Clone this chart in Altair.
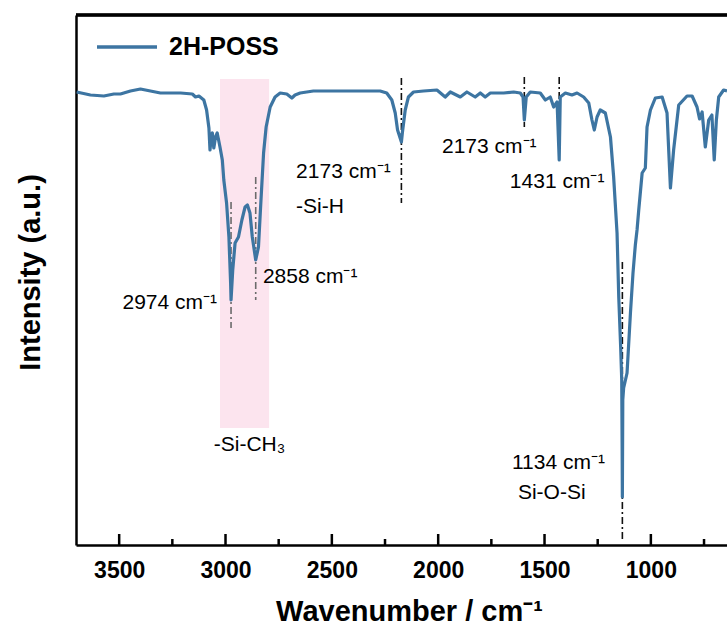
import altair as alt
import pandas as pd

# ---- spectrum ----
wavenumber = [3700, 3635, 3572, 3525, 3494, 3447, 3400, 3353, 3306, 3211, 3156, 3141, 3125, 3102,
              3089, 3078, 3073, 3066, 3062, 3055, 3047, 3039, 3026, 3015, 3008, 2995, 2984, 2976,
              2974, 2966, 2955, 2939, 2923, 2908, 2897, 2885, 2874, 2858, 2845, 2834, 2821, 2809,
              2790, 2767, 2743, 2712, 2688, 2673, 2649, 2587, 2430, 2273, 2242, 2218, 2202, 2191,
              2173, 2168, 2155, 2140, 2116, 2069, 2006, 1967, 1943, 1896, 1865, 1826, 1802, 1779,
              1755, 1692, 1645, 1614, 1601, 1595, 1586, 1567, 1520, 1496, 1473, 1457, 1441, 1431,
              1426, 1402, 1371, 1347, 1316, 1292, 1277, 1266, 1253, 1238, 1214, 1190, 1175, 1159,
              1151, 1142, 1137, 1135, 1134, 1132, 1128, 1112, 1096, 1084, 1073, 1065, 1057, 1041,
              1026, 1018, 1002, 979, 947, 924, 908, 893, 869, 830, 806, 783, 771, 759, 744, 728,
              713, 702, 692, 681, 658, 642]
intensity = [453, 450, 449, 451, 451, 454, 456, 454, 452, 452, 451, 448, 449, 445,
             435, 417, 395, 410, 412, 397, 408, 412, 398, 385, 365, 342, 308, 262,
             245, 275, 302, 308, 325, 338, 340, 332, 308, 285, 298, 342, 392, 418,
             438, 448, 452, 451, 447, 450, 452, 454, 454, 454, 452, 445, 432, 415,
             403, 413, 435, 448, 453, 454, 455, 448, 453, 448, 453, 448, 452, 448,
             452, 452, 453, 452, 448, 425, 448, 453, 452, 445, 448, 438, 443, 385,
             448, 452, 450, 452, 448, 442, 425, 415, 428, 435, 432, 408, 368, 312,
             248, 198, 165, 95, 48, 145, 157, 172, 232, 272, 300, 315, 335, 372,
             377, 418, 435, 447, 448, 432, 357, 395, 440, 449, 449, 438, 426, 433, 398, 425,
             430, 385, 425, 448, 455, 454]
series_name = "2H-POSS"

# ---- peak markers ----
mark_wn = [2974, 2858, 2173, 1595, 1431, 1134]
mark_top = [343, 368, 467, 468, 468, 283]
mark_bottom = [217, 245, 342, 418, 383, 5]
mark_kind = ["gray", "gray", "black", "black", "black", "black"]

# ---- highlighted band (-Si-CH3) ----
band_from = [3026]
band_to = [2795]
band_top = [466]
band_bottom = [117]

# ---- annotations ----
ann_text = ["2974 cm⁻¹", "2858 cm⁻¹", "2173 cm⁻¹", "-Si-H", "2173 cm⁻¹", "1431 cm⁻¹",
            "-Si-CH₃", "1134 cm⁻¹", "Si-O-Si"]
ann_wn = [3040, 2824, 2668, 2668, 1982, 1663, 2887, 1653, 1625]
ann_int = [242, 268, 373, 338, 398, 363, 100, 82, 52]
ann_align = ["right", "left", "left", "left", "left", "left", "center", "left", "left"]

# ---- axis ticks ----
major_ticks = [3500, 3000, 2500, 2000, 1500, 1000]
minor_ticks = [3250, 2750, 2250, 1750, 1250, 750]

FONT = "Liberation Sans"
LINE_COLOR = "#3d75a2"
W, H = 651, 530

spec = pd.DataFrame({"wavenumber": wavenumber, "intensity": intensity, "series": series_name})
marks = pd.DataFrame({"wn": mark_wn, "top": mark_top, "bottom": mark_bottom, "kind": mark_kind})
band = pd.DataFrame({"x1": band_from, "x2": band_to, "y1": band_top, "y2": band_bottom})
ann = pd.DataFrame({"t": ann_text, "wn": ann_wn, "i": ann_int, "align": ann_align})
majors = pd.DataFrame({"wn": major_ticks})
minors = pd.DataFrame({"wn": minor_ticks})

xs = alt.Scale(domain=[642, 3703], reverse=True, nice=False, zero=False)
ys = alt.Scale(domain=[0, 530], nice=False, zero=False)

x_axis = alt.Axis(values=major_ticks, format="d", ticks=False, grid=False,
                  domain=True, domainColor="black", domainWidth=2.5,
                  labelFont=FONT, labelFontSize=23, labelFontWeight="bold", labelColor="black",
                  labelPadding=14,
                  title="Wavenumber / cm⁻¹", titleFont=FONT, titleFontSize=29,
                  titleFontWeight="bold", titleColor="black",
                  titleX=333, titleY=66, titleBaseline="middle", titleAlign="center")
y_axis = alt.Axis(labels=False, ticks=False, grid=False, domain=True,
                  domainColor="black", domainWidth=2.5,
                  title="Intensity (a.u.)", titleFont=FONT, titleFontSize=29,
                  titleFontWeight="bold", titleColor="black",
                  titleX=-46, titleY=257, titleBaseline="middle", titleAlign="center",
                  titleAngle=-90)


def X(field):
    return alt.X(field, scale=xs, axis=x_axis)


def Y(field):
    return alt.Y(field, scale=ys, axis=y_axis)


band_layer = alt.Chart(band).mark_rect(color="#fce4ee").encode(
    x=X("x1:Q"), x2="x2:Q", y=Y("y1:Q"), y2="y2:Q",
)

line_layer = alt.Chart(spec).mark_line(strokeWidth=3.2, strokeJoin="round").encode(
    x=X("wavenumber:Q"),
    y=Y("intensity:Q"),
    order=alt.Order("wavenumber:Q", sort="descending"),
    color=alt.Color("series:N",
                    scale=alt.Scale(domain=[series_name], range=[LINE_COLOR]),
                    legend=alt.Legend(orient="none", legendX=19, legendY=0, title=None,
                                      symbolType="stroke", symbolStrokeWidth=3.5,
                                      symbolSize=3600, labelFont=FONT, labelFontSize=25,
                                      labelFontWeight="bold", labelColor="black",
                                      labelOffset=10)),
)

mark_layer = alt.Chart(marks).mark_rule(strokeWidth=1.6, strokeDash=[7, 3, 2, 3]).encode(
    x=X("wn:Q"),
    y=Y("top:Q"),
    y2="bottom:Q",
    stroke=alt.Stroke("kind:N", scale=alt.Scale(domain=["gray", "black"],
                                                 range=["#6b6b6b", "#111111"]), legend=None),
)

text_layers = []
for al in ["left", "right", "center"]:
    text_layers.append(
        alt.Chart(ann[ann["align"] == al]).mark_text(
            align=al, baseline="middle", font=FONT, fontSize=21, color="black"
        ).encode(
            x=X("wn:Q"),
            y=Y("i:Q"),
            text="t:N",
        )
    )

major_layer = alt.Chart(majors).mark_rule(color="black", strokeWidth=2.5).encode(
    x=X("wn:Q"),
    y=alt.value(H),
    y2=alt.value(H - 11),
)
minor_layer = alt.Chart(minors).mark_rule(color="black", strokeWidth=2.5).encode(
    x=X("wn:Q"),
    y=alt.value(H),
    y2=alt.value(H - 6),
)
top_frame = alt.Chart(majors).mark_rule(color="black", strokeWidth=2.5).encode(
    x=alt.value(0), x2=alt.value(W), y=alt.value(0)
)

chart = alt.layer(
    band_layer, mark_layer, line_layer, *text_layers, major_layer, minor_layer, top_frame
).properties(
    width=W, height=H,
    autosize=alt.AutoSizeParams(type="none"),
    padding={"left": 76, "top": 15, "right": 0, "bottom": 92},
).configure_view(stroke=None).configure(background="white")

chart.save("out.html", embed_options={"renderer": "svg", "actions": False})
